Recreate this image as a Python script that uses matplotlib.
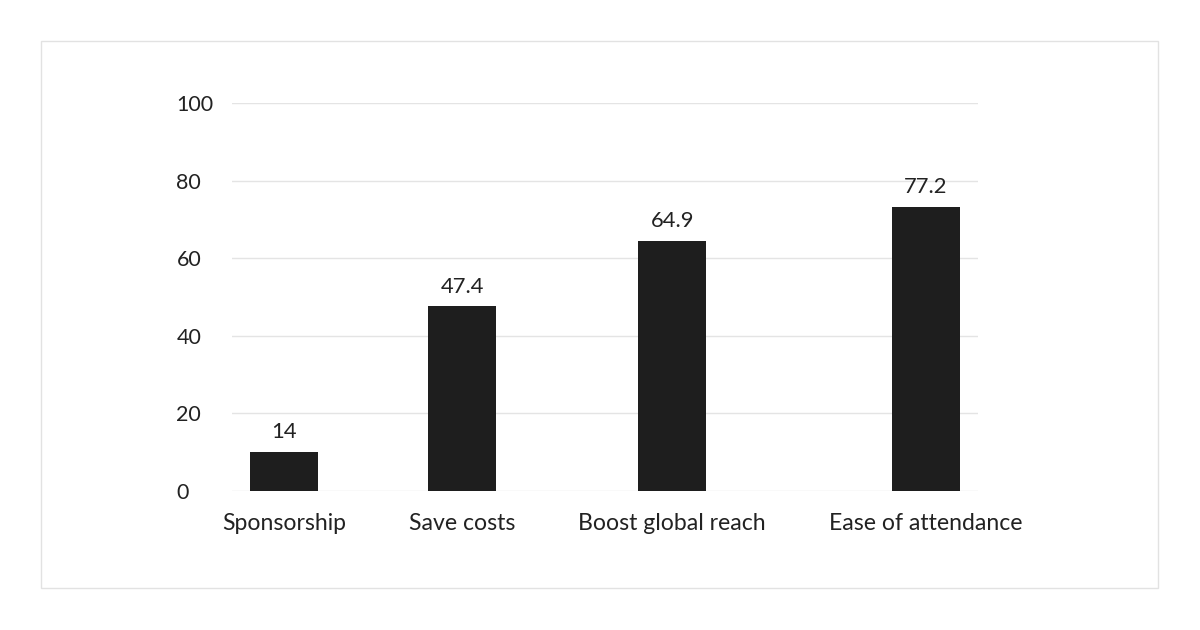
import matplotlib
matplotlib.use("Agg")
import matplotlib.pyplot as plt
from matplotlib.patches import Rectangle

categories = ["Sponsorship", "Save costs", "Boost global reach", "Ease of attendance"]
bar_heights = [10.0, 47.6, 64.4, 73.3]
value_labels = ["14", "47.4", "64.9", "77.2"]
y_ticks = [0, 20, 40, 60, 80, 100]

FONT = ["Lato", "DejaVu Sans"]
TEXT = "#222222"
BAR = "#1e1e1e"
GRID = "#e4e4e4"

plt.rcParams["font.family"] = FONT

W, H, DPI = 1200, 630, 100
fig = plt.figure(figsize=(W / DPI, H / DPI), dpi=DPI)

# light card border around the chart
fig.patches.append(Rectangle((41 / W, 1 - 588 / H), (1158 - 41) / W, (588 - 41) / H,
                             transform=fig.transFigure, fill=False,
                             ec="#e2e2e2", lw=1.0))

ax = fig.add_axes([232 / W, 1 - 491 / H, (978 - 232) / W, (491 - 103) / H])
renderer = fig.canvas.get_renderer()
ax_px = ax.get_window_extent(renderer).width

# category slots follow the width of their labels (as in the source chart)
cat_size = 16.6
widths = []
for label in categories:
    t = fig.text(0, 0, label, fontsize=cat_size)
    widths.append(t.get_window_extent(renderer).width)
    t.remove()
gap = 63
left = -10
centers = []
for w in widths:
    centers.append(left + w / 2)
    left += w + gap

bar_w = 68
ax.bar(centers, bar_heights, width=bar_w, color=BAR, zorder=3, clip_on=False)
for x, h, lab in zip(centers, bar_heights, value_labels):
    ax.annotate(lab, (x, h), xytext=(0, 7), textcoords="offset points",
                ha="center", va="bottom", fontsize=15.8, color=TEXT)

ax.set_xlim(0, ax_px)
ax.set_ylim(0, 100)
ax.set_yticks(y_ticks)
ax.set_xticks(centers, categories)
ax.grid(axis="y", color=GRID, lw=1, zorder=0)
ax.set_axisbelow(True)
for s in ax.spines.values():
    s.set_visible(False)
ax.tick_params(axis="x", length=0, pad=16, labelsize=cat_size, labelcolor=TEXT)
ax.tick_params(axis="y", length=0, pad=40, labelsize=15.5, labelcolor=TEXT)
for t in ax.get_yticklabels():
    t.set_horizontalalignment("left")

fig.savefig("out.png", dpi=DPI)
